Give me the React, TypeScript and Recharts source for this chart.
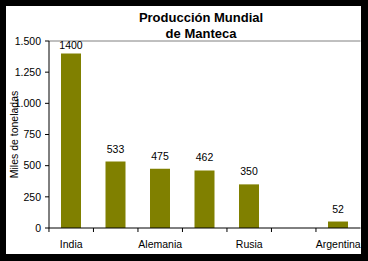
import { BarChart, Bar, XAxis, YAxis, LabelList, ReferenceLine, Label } from 'recharts';

const paises = ['India', 'Estados Unidos', 'Alemania', 'Francia', 'Rusia', 'Nueva Zelanda', 'Argentina'];
const produccion: (number | null)[] = [1400, 533, 475, 462, 350, null, 52];
const yTicks = [0, 250, 500, 750, 1000, 1250, 1500];

const FONT = '"Liberation Sans", Arial, sans-serif';
const W = 355;
const H = 248;
const Y_W = 43;
const BAND = (W - Y_W) / paises.length;

const data = paises.map((pais, i) => ({ pais, valor: produccion[i] }));

const fmt = (v: number) => v.toString().replace(/\B(?=(\d{3})+(?!\d))/g, '.');

function XTick({ x, y, payload }: any) {
  const left = x - BAND / 2;
  return (
    <g>
      <line x1={left} x2={left} y1={y} y2={y + 4} stroke="#000" />
      {payload.index % 2 === 0 && (
        <text x={x} y={y + 13} dy="0.71em" textAnchor="middle" fontSize={10.5} fontFamily={FONT} fill="#000">
          {payload.value}
        </text>
      )}
    </g>
  );
}

function ValueLabel({ x, y, width, value }: any) {
  if (value == null) return null;
  const ty = Math.max(y - 9, 42.7);
  return (
    <text x={x + width / 2} y={ty} textAnchor="middle" fontSize={10.5} fontFamily={FONT} fill="#000">
      {value}
    </text>
  );
}

export default function App() {
  return (
    <div style={{ position: 'absolute', left: 0, top: 0, width: 368, height: 261, background: '#000' }}>
      <div style={{ position: 'absolute', left: 6, top: 6, width: W, height: H, background: '#fff', overflow: 'hidden' }}>
        <div
          style={{
            position: 'absolute',
            left: 95,
            top: 4,
            width: 200,
            textAlign: 'center',
            fontFamily: FONT,
            fontWeight: 'bold',
            fontSize: 13,
            lineHeight: '16px',
            color: '#000',
          }}
        >
          Producción Mundial
          <br />
          de Manteca
        </div>
        <BarChart width={W} height={H} data={data} margin={{ top: 35, right: 0.5, bottom: 0, left: 0 }}>
          <XAxis
            dataKey="pais"
            height={26}
            interval={0}
            tickLine={false}
            tickSize={0}
            tickMargin={0}
            axisLine={{ stroke: '#000' }}
            tick={<XTick />}
          />
          <YAxis
            width={Y_W}
            domain={[0, 1500]}
            ticks={yTicks}
            interval={0}
            tickSize={4}
            tickMargin={4}
            tickFormatter={fmt}
            axisLine={{ stroke: '#000' }}
            tickLine={{ stroke: '#000' }}
            tick={{ fontSize: 10.5, fontFamily: FONT, fill: '#000' }}
          >
            <Label
              content={({ viewBox }: any) => {
                const cx = 12.3;
                const cy = viewBox.y + viewBox.height / 2;
                return (
                  <text
                    x={cx}
                    y={cy}
                    transform={`rotate(-90 ${cx} ${cy})`}
                    textAnchor="middle"
                    fontSize={10.5}
                    fontFamily={FONT}
                    fill="#000"
                  >
                    Miles de toneladas
                  </text>
                );
              }}
            />
          </YAxis>
          <YAxis yAxisId="borde" orientation="right" width={0} tick={false} tickLine={false} axisLine={{ stroke: '#808080' }} />
          <ReferenceLine y={1500} stroke="#808080" />
          <Bar dataKey="valor" fill="#808000" barSize={20} isAnimationActive={false}>
            <LabelList dataKey="valor" content={<ValueLabel />} />
          </Bar>
        </BarChart>
      </div>
    </div>
  );
}
